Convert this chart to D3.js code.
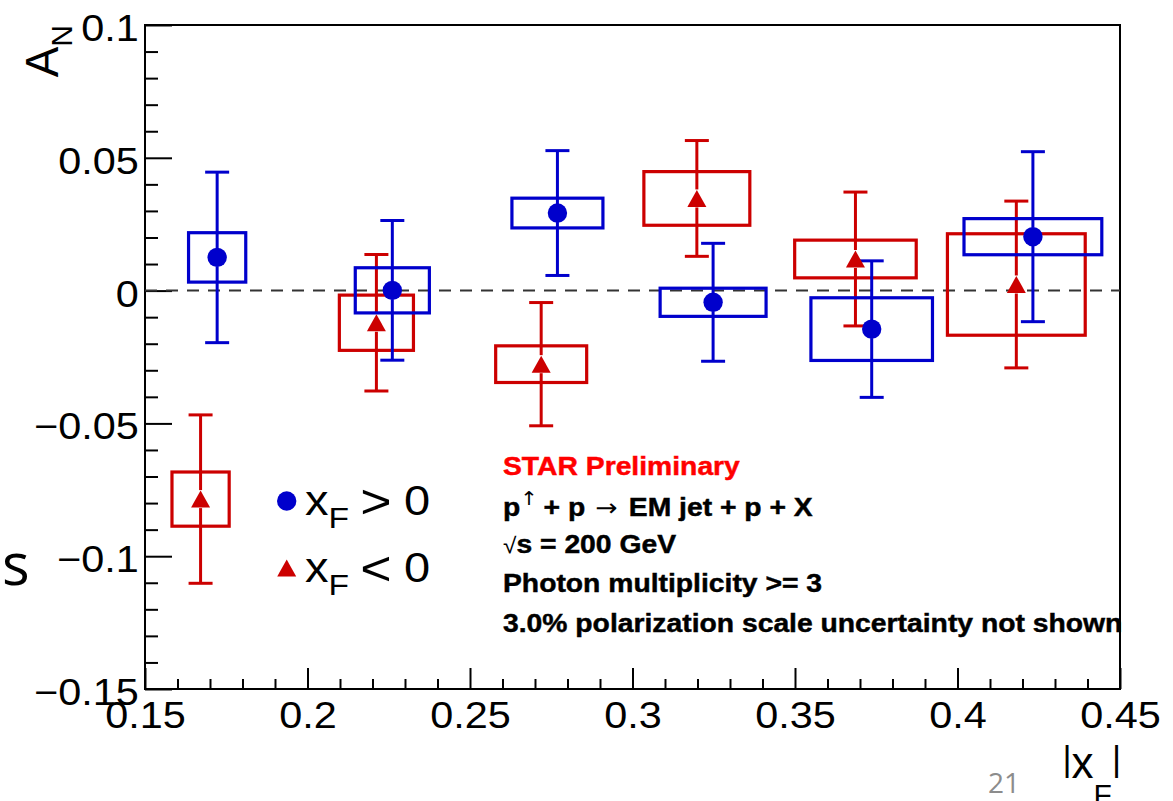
<!DOCTYPE html>
<html>
<head>
<meta charset="utf-8">
<script src="https://cdn.jsdelivr.net/npm/d3@7"></script>
<style>
  body { margin: 0; background: #fff; }
  svg { display: block; }
</style>
</head>
<body>
<svg id="chart" width="1173" height="801"></svg>
<script>
// ---- axis ticks ----
const xTicks = [0.15, 0.2, 0.25, 0.3, 0.35, 0.4, 0.45];
const xTickLabels = ["0.15", "0.2", "0.25", "0.3", "0.35", "0.4", "0.45"];
const yTicks = [-0.15, -0.1, -0.05, 0, 0.05, 0.1];
const yTickLabels = ["\u22120.15", "\u22120.1", "\u22120.05", "0", "0.05", "0.1"];

// half width of each |x_F| bin (systematic box width)
const binHalfWidth = [0.0088, 0.0114, 0.0140, 0.0163, 0.0187, 0.0212];

// x_F > 0
const posX    = [0.1722, 0.2261, 0.2769, 0.3248, 0.3736, 0.4232];
const posAN   = [0.0125, 0.0001, 0.0292, -0.0044, -0.0145, 0.0203];
const posStat = [0.0321, 0.0263, 0.0235, 0.0222, 0.0257, 0.0320];
const posSys  = [0.0093, 0.0085, 0.0056, 0.0053, 0.0118, 0.0068];

// x_F < 0
const negX    = [0.1671, 0.2212, 0.2719, 0.3198, 0.3686, 0.4181];
const negAN   = [-0.0785, -0.0121, -0.0277, 0.0347, 0.0119, 0.0023];
const negStat = [0.0317, 0.0257, 0.0232, 0.0218, 0.0252, 0.0314];
const negSys  = [0.0102, 0.0104, 0.0069, 0.0101, 0.0071, 0.0191];

const seriesNames = ["x_F > 0", "x_F < 0"];

const BLUE = "#0000cc", RED = "#cc0000";
const FONT = "'Liberation Sans', Arial, Helvetica, sans-serif";
const STRETCH = 1.12;   // horizontal stretch of the slide's lettering

const svg = d3.select("#chart");
const plotLeft = 145, plotRight = 1120, plotTop = 25, plotBottom = 689;

const x = d3.scaleLinear().domain([0.15, 0.45]).range([plotLeft, plotRight]);
const y = d3.scaleLinear().domain([-0.15, 0.1]).range([plotBottom, plotTop]);

// ---- axes (ticks pointing inward) ----
const minorX = d3.range(15, 46).map(v => v / 100).filter(v => !xTicks.some(t => Math.abs(t - v) < 1e-9));
const minorY = d3.range(-15, 11).map(v => v / 100).filter(v => !yTicks.some(t => Math.abs(t - v) < 1e-9));

function styleAxis(g) {
  g.select(".domain").remove();
  g.selectAll(".tick line").attr("stroke", "#000").attr("stroke-width", 2);
  g.selectAll("text").attr("fill", "#000").attr("font-family", FONT).attr("font-size", 37);
}

svg.append("g").attr("transform", `translate(0,${plotBottom})`)
  .call(d3.axisBottom(x).tickValues(minorX).tickSize(-10).tickFormat(""))
  .call(styleAxis);
svg.append("g").attr("transform", `translate(0,${plotBottom})`)
  .call(d3.axisBottom(x).tickValues(xTicks).tickSize(-21)
        .tickFormat((d, i) => xTickLabels[i]))
  .call(styleAxis)
  .call(g => g.selectAll("text").attr("y", 39.5).attr("dy", 0)
    .attr("transform", `scale(${STRETCH},1)`));

svg.append("g").attr("transform", `translate(${plotLeft},0)`)
  .call(d3.axisLeft(y).tickValues(minorY).tickSize(-13).tickFormat(""))
  .call(styleAxis);
svg.append("g").attr("transform", `translate(${plotLeft},0)`)
  .call(d3.axisLeft(y).tickValues(yTicks).tickSize(-27).tickPadding(5.5)
        .tickFormat((d, i) => yTickLabels[i]))
  .call(styleAxis)
  .call(g => g.selectAll("text").attr("dy", "0.42em")
    .attr("transform", `scale(${STRETCH},1)`));

// frame
svg.append("rect")
  .attr("x", plotLeft).attr("y", plotTop)
  .attr("width", plotRight - plotLeft).attr("height", plotBottom - plotTop)
  .attr("fill", "none").attr("stroke", "#000").attr("stroke-width", 2);

// zero line
svg.append("line")
  .attr("x1", plotLeft).attr("x2", plotRight)
  .attr("y1", y(0)).attr("y2", y(0))
  .attr("stroke", "#333").attr("stroke-width", 2)
  .attr("stroke-dasharray", "12,9");

// ---- data series ----
function buildSeries(xs, vals, stat, sys) {
  return xs.map((xv, i) => ({ x: xv, v: vals[i], stat: stat[i], sys: sys[i], hw: binHalfWidth[i] }));
}
const posData = buildSeries(posX, posAN, posStat, posSys);
const negData = buildSeries(negX, negAN, negStat, negSys);

const GAP = 9;
function drawBoxesAndBars(data, color) {
  const g = svg.append("g");
  g.selectAll("rect.sys").data(data).join("rect")
    .attr("class", "sys")
    .attr("x", d => x(d.x - d.hw)).attr("width", d => x(d.x + d.hw) - x(d.x - d.hw))
    .attr("y", d => y(d.v + d.sys)).attr("height", d => y(d.v - d.sys) - y(d.v + d.sys))
    .attr("fill", "none").attr("stroke", color).attr("stroke-width", 3.2);
  // vertical stat bars, split around the marker
  g.selectAll("line.up").data(data).join("line")
    .attr("class", "up")
    .attr("x1", d => x(d.x)).attr("x2", d => x(d.x))
    .attr("y1", d => y(d.v + d.stat)).attr("y2", d => y(d.v) - GAP)
    .attr("stroke", color).attr("stroke-width", 3);
  g.selectAll("line.dn").data(data).join("line")
    .attr("class", "dn")
    .attr("x1", d => x(d.x)).attr("x2", d => x(d.x))
    .attr("y1", d => y(d.v) + GAP).attr("y2", d => y(d.v - d.stat))
    .attr("stroke", color).attr("stroke-width", 3);
  // caps
  ["hi", "lo"].forEach(k => {
    g.selectAll("line.cap" + k).data(data).join("line")
      .attr("class", "cap" + k)
      .attr("x1", d => x(d.x) - 12).attr("x2", d => x(d.x) + 12)
      .attr("y1", d => y(k === "hi" ? d.v + d.stat : d.v - d.stat))
      .attr("y2", d => y(k === "hi" ? d.v + d.stat : d.v - d.stat))
      .attr("stroke", color).attr("stroke-width", 3);
  });
}

const triPath = "M0,-8.5 L9.5,8.5 L-9.5,8.5 Z";

drawBoxesAndBars(negData, RED);
drawBoxesAndBars(posData, BLUE);

svg.append("g").selectAll("path").data(negData).join("path")
  .attr("d", triPath)
  .attr("transform", d => `translate(${x(d.x)},${y(d.v)})`)
  .attr("fill", RED);
svg.append("g").selectAll("circle").data(posData).join("circle")
  .attr("cx", d => x(d.x)).attr("cy", d => y(d.v)).attr("r", 9.7)
  .attr("fill", BLUE);

// ---- axis titles ----
const yTitle = svg.append("text")
  .attr("transform", "translate(58,25) rotate(-90)")
  .attr("text-anchor", "end")
  .attr("font-family", FONT).attr("fill", "#000");
yTitle.append("tspan").attr("font-size", 46).text("A");
yTitle.append("tspan").attr("font-size", 30).attr("dy", 14).text("N");

const xTitle = svg.append("text")
  .attr("x", 1121).attr("y", 778)
  .attr("text-anchor", "end")
  .attr("font-family", FONT).attr("fill", "#000");
xTitle.append("tspan").attr("font-size", 35).attr("dy", -7).text("|");
xTitle.append("tspan").attr("font-size", 44).attr("dy", 7).text("x");
xTitle.append("tspan").attr("font-size", 30).attr("dy", 27).text("F");
xTitle.append("tspan").attr("font-size", 35).attr("dy", -34).text("|");

// ---- legend ----
const legendRows = [
  { name: seriesNames[0], color: BLUE, shape: "circle", cy: 501, base: 515 },
  { name: seriesNames[1], color: RED, shape: "triangle", cy: 568, base: 582 }
];
legendRows.forEach(r => {
  if (r.shape === "circle") {
    svg.append("circle").attr("cx", 286.7).attr("cy", r.cy).attr("r", 9.7).attr("fill", r.color);
  } else {
    svg.append("path").attr("d", triPath)
      .attr("transform", `translate(286.7,${r.cy})`).attr("fill", r.color);
  }
  // "x_F > 0" -> base letter, subscript, relation, value
  const [base, sub] = r.name.split("_");
  const [subLetter, rel, val] = sub.split(" ");
  const t = svg.append("g").attr("transform", `translate(305,${r.base}) scale(${STRETCH},1)`)
    .append("text").attr("x", 0).attr("y", 0)
    .attr("font-family", FONT).attr("fill", "#000");
  t.append("tspan").attr("font-size", 42).text(base);
  t.append("tspan").attr("font-size", 30).attr("dy", 13).text(subLetter);
  t.append("tspan").attr("font-size", 48).attr("dy", -10).attr("dx", 10).text(rel);
  t.append("tspan").attr("font-size", 42).attr("dy", -3).attr("dx", 11).text(val);
});

// ---- annotation ----
const NOTE_SCALE = 1.11;
function noteLine(baseline, color = "#000") {
  return svg.append("g").attr("transform", `translate(503,${baseline}) scale(${NOTE_SCALE},1)`)
    .append("text").attr("x", 0).attr("y", 0)
    .attr("font-family", FONT).attr("font-size", 25.5).attr("font-weight", "bold")
    .attr("fill", color).attr("stroke", color).attr("stroke-width", 0.45);
}
noteLine(475, "#ff0000").text("STAR Preliminary");
const l2 = noteLine(516);
l2.append("tspan").text("p");
l2.append("tspan").attr("font-size", 19).attr("font-weight", "normal").attr("stroke-width", 0)
  .attr("font-family", "'DejaVu Sans', sans-serif").attr("dy", -11).text("\u2191");
l2.append("tspan").attr("dy", 11).attr("dx", -2).text(" + p");
l2.append("tspan").attr("font-weight", "normal").attr("stroke-width", 0)
  .attr("font-family", "'DejaVu Sans', sans-serif")
  .attr("font-size", 24).attr("dx", 9).text("\u2192");
l2.append("tspan").attr("dx", 3).text(" EM jet + p + X");
const l3 = noteLine(553);
l3.append("tspan").attr("font-weight", "normal").attr("stroke-width", 0).attr("font-size", 22).text("\u221A");
l3.append("tspan").text("s = 200 GeV");
noteLine(592).text("Photon multiplicity >= 3");
noteLine(632).text("3.0% polarization scale uncertainty not shown");

// ---- slide elements ----
svg.append("text").attr("x", 2).attr("y", 585)
  .attr("font-family", "'Open Sans', 'Noto Sans', sans-serif").attr("font-size", 58)
  .attr("fill", "#000").text("s");
svg.append("text").attr("x", 988).attr("y", 793)
  .attr("font-family", "'Open Sans', 'Noto Sans', sans-serif").attr("font-size", 28)
  .attr("fill", "#8c8c8c").text("21");
</script>
</body>
</html>
